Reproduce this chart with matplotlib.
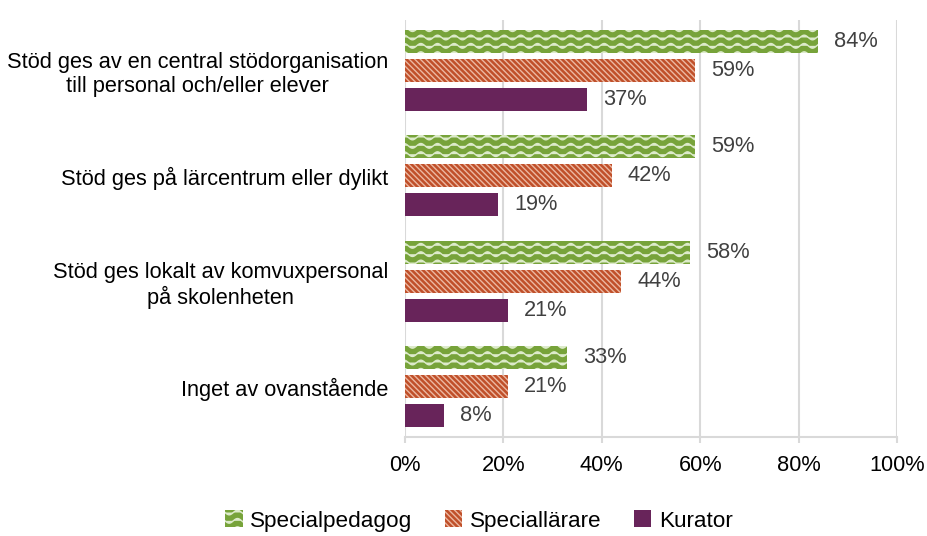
import numpy as np
import matplotlib
matplotlib.use("Agg")
import matplotlib.pyplot as plt
import matplotlib.hatch as mhatch
from matplotlib.path import Path
from matplotlib.patches import Patch

# ---- data ----
categories = [
    "Stöd ges av en central stödorganisation\ntill personal och/eller elever",
    "Stöd ges på lärcentrum eller dylikt",
    "Stöd ges lokalt av komvuxpersonal\npå skolenheten",
    "Inget av ovanstående",
]
series_names = ["Specialpedagog", "Speciallärare", "Kurator"]
specialpedagog = [84, 59, 58, 33]
speciallarare = [59, 42, 44, 21]
kurator = [37, 19, 21, 8]
xticks = [0, 20, 40, 60, 80, 100]
xticklabels = ["0%", "20%", "40%", "60%", "80%", "100%"]


# ---- custom wavy hatch (replaces the 'O' hatch) ----
class WaveHatch(mhatch.HatchPatternBase):
    def __init__(self, hatch, density):
        self.num_lines = int(hatch.count('O') * density)
        self.npts = 121
        self.num_vertices = self.num_lines * self.npts

    def set_vertices_and_codes(self, vertices, codes):
        x = np.linspace(0, 1, self.npts)
        steps = (np.arange(self.num_lines) + 0.5) / self.num_lines
        amp = 0.28 / self.num_lines
        for i, y0 in enumerate(steps):
            sl = slice(i * self.npts, (i + 1) * self.npts)
            vertices[sl, 0] = x
            vertices[sl, 1] = y0 + amp * np.sin(2 * np.pi * 6 * x)
            codes[sl] = Path.LINETO
            codes[i * self.npts] = Path.MOVETO


mhatch._hatch_types = [WaveHatch if t is mhatch.LargeCircles else t
                       for t in mhatch._hatch_types]

plt.rcParams['font.family'] = ['Liberation Sans', 'DejaVu Sans']
plt.rcParams['hatch.linewidth'] = 1.0

FS = 15.7
green = '#77A33A'
orange = '#C0502A'
purple = '#68245A'
green_h = '#DDEBCB'
orange_h = '#ECB8A2'
diag = '\\' * 6

fig = plt.figure(figsize=(9.27, 5.36), dpi=100)
ax = fig.add_axes([405 / 927, 1 - 437 / 536, 492 / 927, 417 / 536])

y = np.arange(len(categories))
off = 0.275
h = 0.218

b1 = ax.barh(y - off, specialpedagog, height=h, color=green, edgecolor=green_h,
             linewidth=0, hatch='OO')
b2 = ax.barh(y, speciallarare, height=h, color=orange, edgecolor=orange_h,
             linewidth=0, hatch=diag)
b3 = ax.barh(y + off, kurator, height=h, color=purple, linewidth=0)

for bars, vals in ((b1, specialpedagog), (b2, speciallarare), (b3, kurator)):
    ax.bar_label(bars, labels=[f"{v}%" for v in vals], padding=11.5,
                 fontsize=FS, color='#404040')

ax.set_xlim(0, 100)
ax.set_ylim(len(categories) - 0.525, -0.475)
ax.set_xticks(xticks)
ax.set_xticklabels(xticklabels, fontsize=FS)
ax.set_yticks(y)
ax.set_yticklabels(categories, fontsize=FS)
for lab in ax.get_yticklabels():
    lab.set_multialignment('center')

ax.tick_params(axis='y', length=0, pad=12)
ax.tick_params(axis='x', length=4, width=1.5, color='#D9D9D9', pad=9)
ax.grid(axis='x', color='#D9D9D9', linewidth=1.5)
ax.set_axisbelow(True)
for s in ('top', 'right', 'left'):
    ax.spines[s].set_visible(False)
ax.spines['bottom'].set_color('#D9D9D9')
ax.spines['bottom'].set_linewidth(1.5)

handles = [
    Patch(facecolor=green, edgecolor=green_h, linewidth=0, hatch='OO'),
    Patch(facecolor=orange, edgecolor=orange_h, linewidth=0, hatch=diag),
    Patch(facecolor=purple, linewidth=0),
]
fig.legend(handles, series_names, loc='center', bbox_to_anchor=(479 / 927, 1 - 521 / 536),
           ncol=3, frameon=False, fontsize=16.2, handlelength=0.77, handleheight=0.77,
           handletextpad=0.33, columnspacing=1.45, borderaxespad=0, borderpad=0)

fig.savefig('out.png', dpi=100)
